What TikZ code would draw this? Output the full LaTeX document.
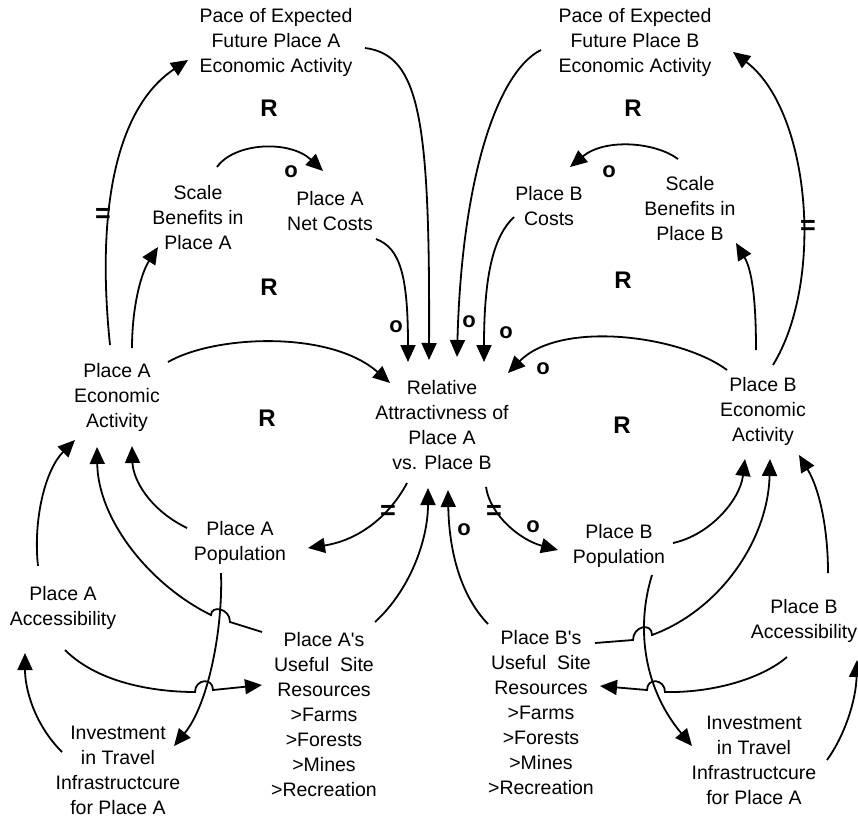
\documentclass[tikz,border=0pt]{standalone}
\usepackage{fontspec}
\setmainfont{Liberation Sans}
\usetikzlibrary{calc,arrows.meta}

\begin{document}
\begin{tikzpicture}[x=1pt,y=-1pt,
		var/.style={outer sep=0pt,inner sep=0pt,align=center,font=\fontsize{19.5}{25}\selectfont},
		loopmark/.style={outer sep=0pt,inner sep=0pt,font=\fontsize{24}{24}\selectfont\bfseries},
		sign/.style={outer sep=0pt,inner sep=0pt,font=\fontsize{22}{22}\selectfont\bfseries},
		delaymark/.style={outer sep=0pt,inner sep=0pt,font=\fontsize{27}{27}\selectfont\bfseries},
		link/.style={line width=1.8pt,-{Triangle[length=17pt,width=15pt]}}]
		
		\useasboundingbox (0,0) rectangle (858,819);
		
		% variables
		\node[var] (paceA) at (276,42) {Pace of Expected\\Future Place A\\Economic Activity};
		\node[var] (paceB) at (635,42) {Pace of Expected\\Future Place B\\Economic Activity};
		\node[var] (scaleA) at (198,218) {Scale\\Benefits in\\Place A};
		\node[var] (costA) at (330,211.5) {Place A\\Net Costs};
		\node[var] (costB) at (549,206.5) {Place B\\Costs};
		\node[var] (scaleB) at (690,208.5) {Scale\\Benefits in\\Place B};
		\node[var] (econA) at (117,397) {Place A\\Economic\\Activity};
		\node[var] (econB) at (763,411) {Place B\\Economic\\Activity};
		\node[var] (rel) at (442,425.5) {Relative\\Attractivness of\\Place A\\vs. Place B};
		\node[var] (popA) at (240,542.5) {Place A\\Population};
		\node[var] (popB) at (619,545.5) {Place B\\Population};
		\node[var] (accA) at (63,607.5) {Place A\\Accessibility};
		\node[var] (accB) at (804,620.5) {Place B\\Accessibility};
		\node[var] (siteA) at (324,715) {Place A\textquotesingle s\\Useful~~Site\\Resources\\>Farms\\>Forests\\>Mines\\>Recreation};
		\node[var] (siteB) at (541,713) {Place B\textquotesingle s\\Useful~~Site\\Resources\\>Farms\\>Forests\\>Mines\\>Recreation};
		\node[var] (invA) at (118,770.5) {Investment\\in Travel\\Infrastructcure\\for Place A};
		\node[var] (invB) at (754,760.5) {Investment\\in Travel\\Infrastructcure\\for Place A};
		
		% loop labels
		\node[loopmark] (loopTA) at (269,108) {R};
		\node[loopmark] (loopTB) at (633,108) {R};
		\node[loopmark] (loopMA) at (269,287) {R};
		\node[loopmark] (loopMB) at (623,280) {R};
		\node[loopmark] (loopLA) at (267,418) {R};
		\node[loopmark] (loopLB) at (622,425) {R};
		
		% place A links
		\draw[link] ($(econA)+(-7,-52)$) .. controls (95,200) and (120,105) .. ($(paceA)+(-88,18)$);
		\draw[link] ($(econA)+(15,-49)$) .. controls (132,310) and (140,275) .. ($(scaleA)+(-40,29)$);
		\draw[link] ($(scaleA)+(19,-51)$) .. controls (235,142) and (290,140) .. ($(costA)+(-7,-40.5)$);
		\draw[link] ($(paceA)+(89,6)$) .. controls (420,55) and (430,120) .. ($(rel)+(-13,-65.5)$);
		\draw[link] ($(costA)+(46,27.5)$) .. controls (400,248) and (408,275) .. ($(rel)+(-34,-63.5)$);
		\draw[link] ($(econA)+(51,-35)$) .. controls (215,335) and (330,330) .. ($(rel)+(-52,-42.5)$);
		\draw[link] ($(rel)+(-35,57.5)$) .. controls (390,515) and (360,540) .. ($(popA)+(68,5.5)$);
		\draw[link] ($(siteA)+(51,-93)$) .. controls (410,590) and (428,540) .. ($(rel)+(-14,62.5)$);
		\draw[link] ($(popA)+(-53,-14.5)$) .. controls (150,510) and (133,480) .. ($(econA)+(15,49)$);
		\draw[link] ($(siteA)+(-62,-83)$) -- (230,622) .. controls (230,608) and (211,605) .. (211,615)
			.. controls (150,585) and (98,520) .. ($(econA)+(-20,50)$);
		\draw[link] ($(accA)+(-25,-41.5)$) .. controls (33,520) and (45,470) .. ($(econA)+(-42,43)$);
		\draw[link] ($(popA)+(-19,30.5)$) .. controls (223,630) and (208,705) .. ($(invA)+(56,-24.5)$);
		\draw[link] ($(accA)+(2,42.5)$) .. controls (100,685) and (160,692) .. (195,692)
			.. controls (195,679) and (213,677) .. (213,690) -- ($(siteA)+(-62,-30)$);
		\draw[link] ($(invA)+(-56,-18.5)$) .. controls (35,725) and (25,690) .. ($(accA)+(-38,45.5)$);
		
		% place B links
		\draw[link] ($(scaleB)+(-12,-49.5)$) .. controls (655,142) and (605,138) .. ($(costB)+(21,-39.5)$);
		\draw[link] ($(paceB)+(-94,8)$) .. controls (500,70) and (462,170) .. ($(rel)+(15,-68.5)$);
		\draw[link] ($(costB)+(-35,10.5)$) .. controls (495,235) and (484,270) .. ($(rel)+(42,-63.5)$);
		\draw[link] ($(econB)+(-36,-41)$) .. controls (680,335) and (560,320) .. ($(rel)+(66,-52.5)$);
		\draw[link] ($(rel)+(44,61.5)$) .. controls (490,515) and (520,540) .. ($(popB)+(-61,4.5)$);
		\draw[link] ($(siteB)+(-53,-89)$) .. controls (460,595) and (449,550) .. ($(rel)+(6,64.5)$);
		\draw[link] ($(popB)+(54,-2.5)$) .. controls (710,535) and (740,500) .. ($(econB)+(-18,48)$);
		\draw[link] ($(siteB)+(54,-70)$) -- (633,640) .. controls (633,626) and (652,622) .. (652,635)
			.. controls (720,610) and (768,540) .. ($(econB)+(7,48)$);
		\draw[link] ($(accB)+(24,-47.5)$) .. controls (828,530) and (820,490) .. ($(econB)+(36,44)$);
		\draw[link] ($(popB)+(33,29.5)$) .. controls (635,630) and (645,690) .. ($(invB)+(-62,-14.5)$);
		\draw[link] ($(accB)+(-17,36.5)$) .. controls (760,680) and (710,693) .. (665,692)
			.. controls (665,679) and (647,677) .. (647,690) -- ($(siteB)+(59,-27)$);
		\draw[link] ($(invB)+(73,-0.5)$) .. controls (845,735) and (856,700) .. ($(accB)+(53,39.5)$);
		\draw[link] ($(econB)+(-7,-61)$) .. controls (756,300) and (752,270) .. ($(scaleB)+(46,34.5)$);
		\draw[link] ($(econB)+(10,-46)$) .. controls (825,280) and (810,110) .. ($(paceB)+(98,10)$);
		
		% polarity and delay marks
		\node[sign] (oScaleA) at (291,172) {o};
		\node[sign] (oScaleB) at (609,172) {o};
		\node[sign] (oCostA) at (396,327) {o};
		\node[sign] (oPaceB) at (469,322) {o};
		\node[sign] (oCostB) at (506,333) {o};
		\node[sign] (oEconB) at (543,369) {o};
		\node[sign] (oSiteB) at (464,530) {o};
		\node[sign] (oPopB) at (533,527) {o};
		\node[delaymark] (dPaceA) at (103,215) {=};
		\node[delaymark] (dPaceB) at (808,227) {=};
		\node[delaymark] (dPopA) at (388,512) {=};
		\node[delaymark] (dPopB) at (494,512) {=};
		
	\end{tikzpicture}
\end{document}
